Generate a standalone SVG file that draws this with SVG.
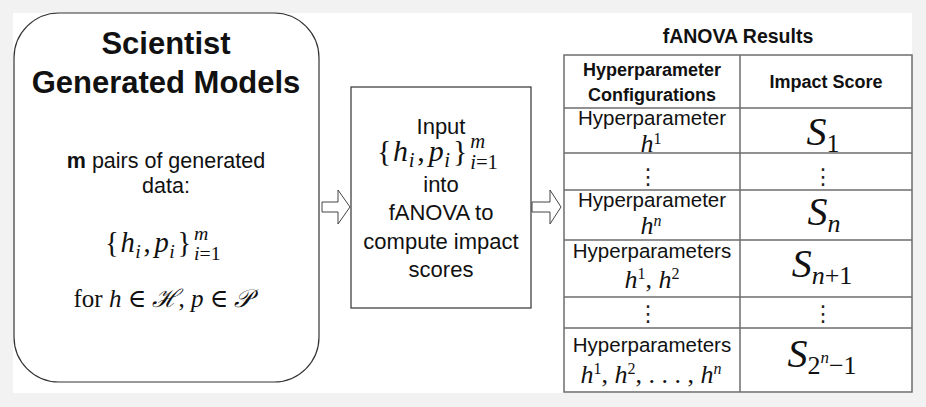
<svg xmlns="http://www.w3.org/2000/svg" width="926" height="407" viewBox="0 0 926 407">
<style>
.sans{font-family:"Liberation Sans",Arial,sans-serif;fill:#111}
.b{font-weight:bold}
.serif{font-family:"Liberation Serif","DejaVu Serif",serif;fill:#111}
.it{font-style:italic}
.mid{text-anchor:middle}
.node{fill:#fff;stroke:#333;stroke-width:1.2}
.grid{stroke:#6e6e6e;stroke-width:1.5;fill:none}
.arrow{fill:#fff;stroke:#444;stroke-width:1}
.dots{font-family:"DejaVu Serif","DejaVu Sans",serif;fill:#222;text-anchor:middle}
</style>
<defs>
<g id="hpset" class="serif">
<text x="0" y="0" font-size="26">{</text>
<text x="14" y="0" font-size="26" class="it">h</text>
<text x="27.5" y="5" font-size="18" class="it">i</text>
<text x="35" y="0" font-size="26">,</text>
<text x="45" y="0" font-size="26" class="it">p</text>
<text x="58.5" y="5" font-size="18" class="it">i</text>
<text x="66" y="0" font-size="26">}</text>
<text x="81" y="-11" font-size="18" class="it">m</text>
<text x="81" y="7" font-size="18"><tspan class="it">i</tspan>=1</text>
</g>
</defs>
<rect x="0" y="0" width="926" height="407" fill="#f2f2f2"/>
<rect x="13" y="13" width="899" height="380" fill="#fff"/>

<g id="scientist-models">
<rect class="node" x="14" y="13" width="305" height="369" rx="45" ry="45"/>
<text class="sans b mid" x="166" y="54" font-size="31">Scientist</text>
<text class="sans b mid" x="166" y="93" font-size="31">Generated Models</text>
<text class="sans mid" x="166" y="168" font-size="21.5"><tspan font-weight="bold">m</tspan> pairs of generated</text>
<text class="sans mid" x="166" y="193" font-size="21.5">data:</text>
<use href="#hpset" transform="translate(105,252) scale(1.1)"/>
<text class="serif mid" x="163" y="307" font-size="25">for <tspan class="it">h</tspan> ∈ <tspan class="it">ℋ</tspan>, <tspan class="it">p</tspan> ∈ <tspan class="it">𝒫</tspan></text>
</g>

<g id="fanova-compute">
<rect class="node" x="351" y="87" width="180" height="221"/>
<text class="sans mid" x="441" y="134" font-size="22">Input</text>
<use href="#hpset" transform="translate(377,161) scale(1.15)"/>
<text class="sans mid" x="441" y="192" font-size="22">into</text>
<text class="sans mid" x="441" y="220" font-size="22">fANOVA to</text>
<text class="sans mid" x="441" y="249" font-size="22">compute impact</text>
<text class="sans mid" x="441" y="277" font-size="22">scores</text>
</g>

<g id="connectors">
<path class="arrow" d="M322,202 H338 V190 L350,207 L338,224 V212 H322 Z"/>
<path class="arrow" d="M532,202 H550 V190 L561,207 L550,224 V212 H532 Z"/>
</g>

<g id="fanova-results">
<text class="sans b mid" x="738" y="43" font-size="19.5">fANOVA Results</text>
<rect x="564" y="55" width="348" height="337" fill="#fff"/>
<path class="grid" d="M564,55 H912 V392 H564 Z M740,55 V392 M564,108 H912 M564,153 H912 M564,190 H912 M564,240 H912 M564,297 H912 M564,328 H912"/>
<text class="sans b mid" x="652" y="76" font-size="18">Hyperparameter</text>
<text class="sans b mid" x="652" y="101" font-size="18">Configurations</text>
<text class="sans b mid" x="826" y="88" font-size="18">Impact Score</text>

<text class="sans mid" x="652" y="125" font-size="20.5">Hyperparameter</text>
<text class="serif mid" x="651" y="152" font-size="26"><tspan class="it">h</tspan><tspan font-size="16" dy="-8">1</tspan></text>
<text class="serif mid" x="823" y="145" font-size="40"><tspan class="it">S</tspan><tspan font-size="26" dy="7">1</tspan></text>

<text class="dots" x="648" y="184" font-size="22">⋮</text>
<text class="dots" x="823" y="184" font-size="22">⋮</text>

<text class="sans mid" x="652" y="207" font-size="20.5">Hyperparameter</text>
<text class="serif mid" x="651" y="234" font-size="26"><tspan class="it">h</tspan><tspan font-size="16" dy="-8" class="it">n</tspan></text>
<text class="serif mid" x="824" y="225" font-size="40"><tspan class="it">S</tspan><tspan font-size="26" dy="7" class="it">n</tspan></text>

<text class="sans mid" x="652" y="258" font-size="20.5">Hyperparameters</text>
<text class="serif mid" x="652" y="288" font-size="26"><tspan class="it">h</tspan><tspan font-size="16" dy="-9">1</tspan><tspan dy="9">, </tspan><tspan class="it">h</tspan><tspan font-size="16" dy="-9">2</tspan></text>
<text class="serif mid" x="822" y="277" font-size="40"><tspan class="it">S</tspan><tspan font-size="26" dy="7"><tspan class="it">n</tspan>+1</tspan></text>

<text class="dots" x="648" y="321" font-size="22">⋮</text>
<text class="dots" x="823" y="321" font-size="22">⋮</text>

<text class="sans mid" x="652" y="352" font-size="20.5">Hyperparameters</text>
<text class="serif mid" x="651" y="383" font-size="26"><tspan class="it">h</tspan><tspan font-size="16" dy="-9">1</tspan><tspan dy="9">, </tspan><tspan class="it">h</tspan><tspan font-size="16" dy="-9">2</tspan><tspan dy="9">, . . . , </tspan><tspan class="it">h</tspan><tspan font-size="16" dy="-9" class="it">n</tspan></text>
<text class="serif mid" x="822" y="367" font-size="40"><tspan class="it">S</tspan><tspan font-size="26" dy="7">2</tspan><tspan font-size="17" dy="-11" class="it">n</tspan><tspan font-size="26" dy="11">−1</tspan></text>
</g>
</svg>
